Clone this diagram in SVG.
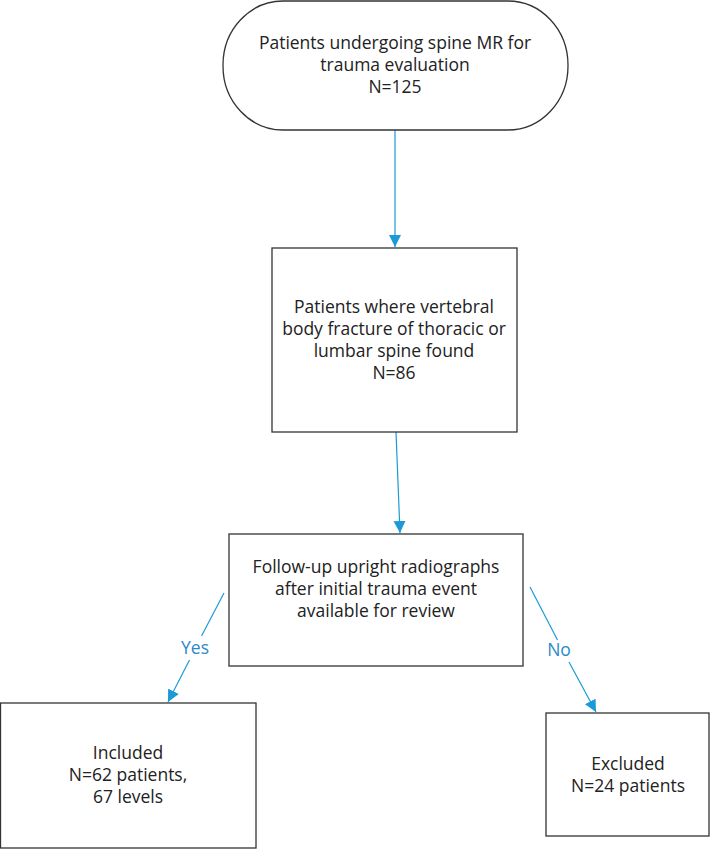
<svg xmlns="http://www.w3.org/2000/svg" width="713" height="849" viewBox="0 0 713 849">
<style>
.box{fill:#fff;stroke:#333;stroke-width:1.3}
.t{font-family:"Open Sans","Noto Sans","Liberation Sans",sans-serif;font-size:17.5px;fill:#222;text-anchor:middle}
.c{fill:none;stroke:#1c9ad6;stroke-width:1.2}
.lbl{font-family:"Open Sans","Noto Sans","Liberation Sans",sans-serif;font-size:17.5px;fill:#2a8ac8;text-anchor:middle}
</style>
<defs>
<marker id="ah" markerUnits="userSpaceOnUse" markerWidth="13" markerHeight="13" refX="12" refY="6" orient="auto">
<path d="M0,0 L12,6 L0,12 z" fill="#1c9ad6"/>
</marker>
</defs>
<rect width="713" height="849" fill="#fff"/>
<g id="connectors">
<line class="c" x1="395" y1="130" x2="395" y2="247" marker-end="url(#ah)"/>
<line class="c" x1="396" y1="432" x2="400" y2="533" marker-end="url(#ah)"/>
<line class="c" x1="224" y1="593" x2="201.5" y2="636"/>
<line class="c" x1="189.5" y1="660" x2="168" y2="702" marker-end="url(#ah)"/>
<text class="lbl" x="195" y="654">Yes</text>
<line class="c" x1="530" y1="587" x2="557.5" y2="640"/>
<line class="c" x1="569" y1="662" x2="596" y2="712" marker-end="url(#ah)"/>
<text class="lbl" x="559" y="656">No</text>
</g>
<g id="start">
<rect class="box" x="223" y="1" width="345" height="129" rx="60" ry="64"/>
<text class="t" x="395" y="49">Patients undergoing spine MR for</text>
<text class="t" x="395" y="71">trauma evaluation</text>
<text class="t" x="395" y="93">N=125</text>
</g>
<g id="fracture">
<rect class="box" x="272" y="248" width="245" height="184"/>
<text class="t" x="394" y="313">Patients where vertebral</text>
<text class="t" x="394" y="335">body fracture of thoracic or</text>
<text class="t" x="394" y="357">lumbar spine found</text>
<text class="t" x="394" y="379">N=86</text>
</g>
<g id="followup">
<rect class="box" x="229" y="534" width="294" height="132"/>
<text class="t" x="376" y="573">Follow-up upright radiographs</text>
<text class="t" x="376" y="595">after initial trauma event</text>
<text class="t" x="376" y="617">available for review</text>
</g>
<g id="included">
<rect class="box" x="0.5" y="703" width="255.5" height="145"/>
<text class="t" x="128" y="759">Included</text>
<text class="t" x="128" y="781">N=62 patients,</text>
<text class="t" x="128" y="803">67 levels</text>
</g>
<g id="excluded">
<rect class="box" x="546" y="713" width="163" height="123"/>
<text class="t" x="628" y="770">Excluded</text>
<text class="t" x="628" y="792">N=24 patients</text>
</g>
</svg>
